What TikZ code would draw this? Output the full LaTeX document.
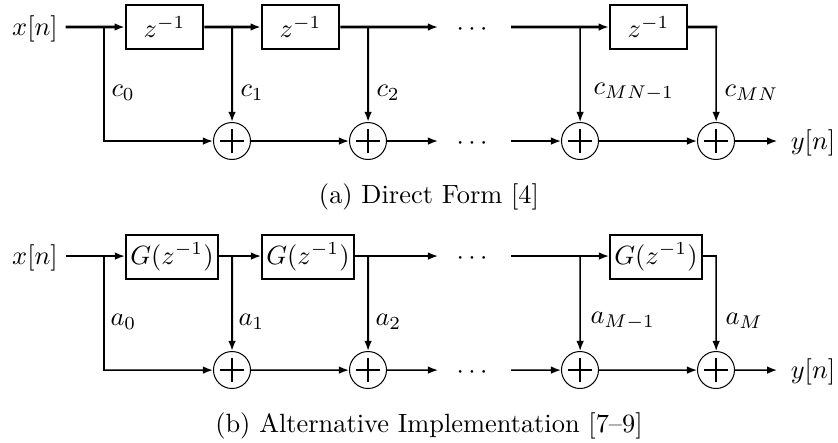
\documentclass[tikz,border=0pt]{standalone}
\usetikzlibrary{arrows.meta}

\newcommand\X{.379pt}
\newcommand\Y{-.379pt}

\tikzset{
  delaybox/.style={draw,line width=.95pt,inner sep=0pt,minimum height=44*.379pt},
  sumnode/.style={circle,draw,line width=.4pt,inner sep=0pt,minimum size=37*.379pt,
    path picture={\draw[line width=.8pt]
      ([xshift=-12*.394pt]path picture bounding box.center) -- ([xshift=12*.394pt]path picture bounding box.center)
      ([yshift=-12*.394pt]path picture bounding box.center) -- ([yshift=12*.394pt]path picture bounding box.center);}},
  heavy/.style={line width=1.05pt},
  mainline/.style={line width=.8pt},
  medium/.style={line width=.65pt},
  gain/.style={anchor=west,inner sep=0pt},
  endlabel/.style={inner sep=5pt}
}

\begin{document}
\begin{tikzpicture}[scale=1.04,transform shape,>={Latex[length=4pt,width=3pt]}]

\useasboundingbox (0*\X, 0*\Y) rectangle (838*\X, 442*\Y);

% direct form
\node[endlabel,inner sep=2.8pt] (xa) at (35*\X, 29*\Y) {$x[n]$};
\node[delaybox,minimum width=77*\X] (za1) at (164.5*\X, 27*\Y) {$z^{-1}$};
\node[delaybox,minimum width=77*\X] (za2) at (300.5*\X, 27*\Y) {$z^{-1}$};
\node[delaybox,minimum width=77*\X] (za3) at (648.5*\X, 27*\Y) {$z^{-1}$};
\node[sumnode] (sa1) at (232*\X, 141*\Y) {};
\node[sumnode] (sa2) at (368*\X, 141*\Y) {};
\node[sumnode] (sa3) at (580*\X, 141*\Y) {};
\node[sumnode] (sa4) at (716*\X, 141*\Y) {};
\node[endlabel] (ya) at (813*\X, 143*\Y) {$y[n]$};
\node (da1) at (472*\X, 30*\Y) {$\cdots$};
\node (da2) at (472*\X, 144*\Y) {$\cdots$};

\coordinate (ba0) at (104*\X, 27*\Y);
\coordinate (ba1) at (232*\X, 27*\Y);
\coordinate (ba2) at (368*\X, 27*\Y);
\coordinate (ba3) at (580*\X, 27*\Y);
\coordinate (ba4) at (716*\X, 27*\Y);
\coordinate (ca0) at (104*\X, 141*\Y);
\coordinate (ea1) at (438*\X, 27*\Y);
\coordinate (ea2) at (511*\X, 27*\Y);
\coordinate (ea3) at (438*\X, 141*\Y);
\coordinate (ea4) at (511*\X, 141*\Y);

\draw[heavy,->] (xa.east |- ba0) -- (za1); % in
\draw[heavy,->] (za1) -- (za2);
\draw[heavy,->] (za2) -- (ea1);
\draw[heavy,->] (ea2) -- (za3);
\draw[heavy,line cap=rect] (za3) -- (ba4);

\draw[medium,->] (ba0) -- (ca0) -- (sa1);
\draw[mainline,->] (ba1) -- (sa1);
\draw[mainline,->] (ba2) -- (sa2);
\draw[medium,->] (ba3) -- (sa3);
\draw[medium,->] (ba4) -- (sa4);

\draw[medium,->] (sa1) -- (sa2);
\draw[medium,->] (sa2) -- (ea3);
\draw[medium,->] (ea4) -- (sa3);
\draw[medium,->] (sa3) -- (sa4);
\draw[medium,->] (sa4) -- (ya.west |- sa4); % out

\node[gain] (la0) at (111*\X, 93*\Y) {$c_0$};
\node[gain] (la1) at (240*\X, 93*\Y) {$c_1$};
\node[gain] (la2) at (376*\X, 93*\Y) {$c_2$};
\node[gain] (la3) at (593*\X, 92*\Y) {$c_{MN-1}$};
\node[gain] (la4) at (724*\X, 93*\Y) {$c_{MN}$};

\node (capa) at (429*\X, 197*\Y) {(a) Direct Form [4]};

% alternative implementation
\node[endlabel,inner sep=2.8pt] (xb) at (35*\X, 258*\Y) {$x[n]$};
\node[delaybox,line width=.8pt,minimum width=92*\X] (zb1) at (172*\X, 257*\Y) {$G(z^{-1})$};
\node[delaybox,line width=.8pt,minimum width=92*\X] (zb2) at (308*\X, 257*\Y) {$G(z^{-1})$};
\node[delaybox,line width=.8pt,minimum width=92*\X] (zb3) at (656*\X, 257*\Y) {$G(z^{-1})$};
\node[sumnode] (sb1) at (232*\X, 370*\Y) {};
\node[sumnode] (sb2) at (368*\X, 370*\Y) {};
\node[sumnode] (sb3) at (580*\X, 370*\Y) {};
\node[sumnode] (sb4) at (716*\X, 370*\Y) {};
\node[endlabel] (yb) at (813*\X, 372*\Y) {$y[n]$};
\node (db1) at (472*\X, 259*\Y) {$\cdots$};
\node (db2) at (472*\X, 373*\Y) {$\cdots$};

\coordinate (bb0) at (104*\X, 256*\Y);
\coordinate (bb1) at (232*\X, 256*\Y);
\coordinate (bb2) at (368*\X, 256*\Y);
\coordinate (bb3) at (580*\X, 256*\Y);
\coordinate (bb4) at (716*\X, 256*\Y);
\coordinate (cb0) at (104*\X, 370*\Y);
\coordinate (eb1) at (438*\X, 256*\Y);
\coordinate (eb2) at (511*\X, 256*\Y);
\coordinate (eb3) at (438*\X, 370*\Y);
\coordinate (eb4) at (511*\X, 370*\Y);

\draw[medium,->] (xb.east |- bb0) -- (zb1.west |- bb0); % in
\draw[medium,->] (zb1.east |- bb0) -- (zb2.west |- bb0);
\draw[medium,->] (zb2.east |- bb0) -- (eb1);
\draw[medium,->] (eb2) -- (zb3.west |- bb0);
\draw[medium,->] (zb3.east |- bb0) -- (bb4) -- (sb4);

\draw[medium,->] (bb0) -- (cb0) -- (sb1);
\draw[mainline,->] (bb1) -- (sb1);
\draw[mainline,->] (bb2) -- (sb2);
\draw[medium,->] (bb3) -- (sb3);

\draw[medium,->] (sb1) -- (sb2);
\draw[medium,->] (sb2) -- (eb3);
\draw[medium,->] (eb4) -- (sb3);
\draw[medium,->] (sb3) -- (sb4);
\draw[medium,->] (sb4) -- (yb.west |- sb4); % out

\node[gain] (lb0) at (110*\X, 322*\Y) {$a_0$};
\node[gain] (lb1) at (238*\X, 322*\Y) {$a_1$};
\node[gain] (lb2) at (375*\X, 322*\Y) {$a_2$};
\node[gain] (lb3) at (590*\X, 321*\Y) {$a_{M-1}$};
\node[gain] (lb4) at (725*\X, 321*\Y) {$a_M$};

\node (capb) at (429*\X, 426*\Y) {(b) Alternative Implementation [7--9]};

\end{tikzpicture}
\end{document}
